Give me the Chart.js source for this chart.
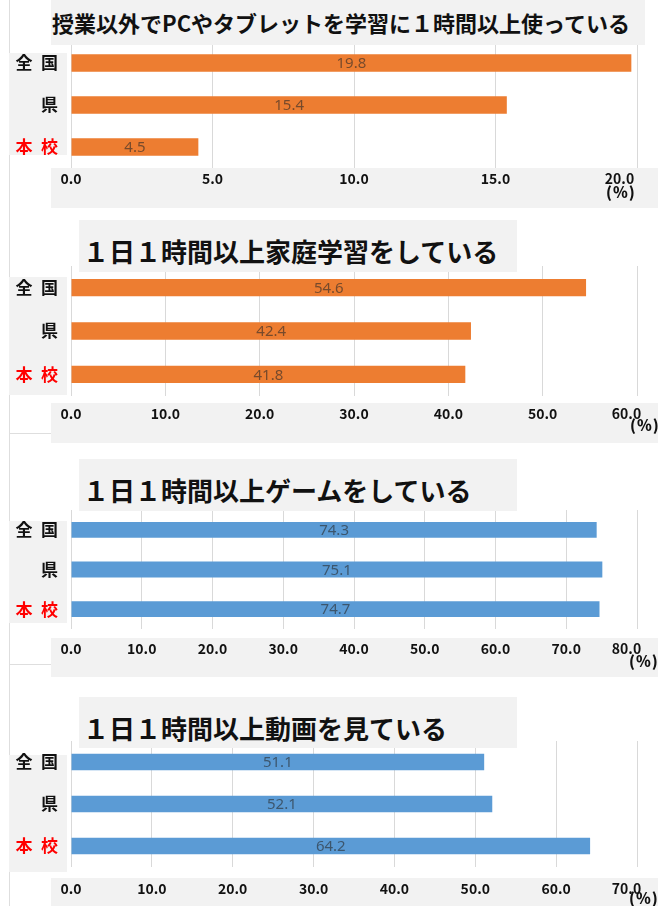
<!DOCTYPE html>
<html>
<head>
<meta charset="utf-8">
<script src="https://cdn.jsdelivr.net/npm/chart.js@4.4.1/dist/chart.umd.min.js"></script>
<style>
  body { margin: 0; background: #fff; }
  #page { position: relative; width: 663px; height: 906px; overflow: hidden; background: #fff;
          font-family: "Noto Sans CJK JP", "Noto Sans", sans-serif; }
  .box { position: absolute; background: #f2f2f2; z-index: 1; }
  .ttl { position: absolute; background: #f2f2f2; z-index: 3; font-weight: 700; color: #111;
         white-space: nowrap; box-sizing: border-box; }
  .pct { position: absolute; z-index: 3; font-family: "Noto Sans CJK JP", sans-serif; font-weight: 900;
         font-size: 15px; color: #111; line-height: 15px; letter-spacing: 1px; }
  .rule { position: absolute; background: #dedede; z-index: 0; }
  canvas { position: absolute; left: 0; z-index: 2; }
</style>
</head>
<body>
<div id="page">
  <div class="rule" style="left:9px;top:0;width:1px;height:906px"></div>
  <div class="rule" style="left:9px;top:433px;width:42px;height:1px"></div>
  <div class="rule" style="left:9px;top:664px;width:42px;height:1px"></div>

  <!-- panel 1 -->
  <div class="box" style="left:9px;top:53px;width:58px;height:102px"></div>
  <div class="box" style="left:51px;top:168px;width:607px;height:40px"></div>
  <canvas id="c1" width="700" height="215" style="top:0"></canvas>
  <div class="ttl" style="left:51px;top:0;width:594px;height:45px;font-size:22px;line-height:45px;padding-left:1px">授業以外でPCやタブレットを学習に１時間以上使っている</div>
  <div class="pct" style="left:606px;top:184px">(%)</div>

  <!-- panel 2 -->
  <div class="box" style="left:9px;top:277px;width:58px;height:118px"></div>
  <div class="box" style="left:51px;top:403px;width:607px;height:40px"></div>
  <canvas id="c2" width="700" height="230" style="top:215px"></canvas>
  <div class="ttl" style="left:79px;top:220px;width:438px;height:52px;font-size:26px;line-height:52px;padding:5px 0 0 4px">１日１時間以上家庭学習をしている</div>
  <div class="pct" style="left:630px;top:417px">(%)</div>

  <!-- panel 3 -->
  <div class="box" style="left:9px;top:521px;width:58px;height:102px"></div>
  <div class="box" style="left:51px;top:638px;width:607px;height:39px"></div>
  <canvas id="c3" width="700" height="235" style="top:445px"></canvas>
  <div class="ttl" style="left:79px;top:459px;width:438px;height:52px;font-size:26px;line-height:52px;padding:5px 0 0 4px">１日１時間以上ゲームをしている</div>
  <div class="pct" style="left:629px;top:653px">(%)</div>

  <!-- panel 4 -->
  <div class="box" style="left:9px;top:755px;width:58px;height:117px"></div>
  <div class="box" style="left:51px;top:878px;width:607px;height:28px"></div>
  <canvas id="c4" width="700" height="226" style="top:680px"></canvas>
  <div class="ttl" style="left:79px;top:697px;width:438px;height:51px;font-size:26px;line-height:51px;padding:5px 0 0 4px">１日１時間以上動画を見ている</div>
  <div class="pct" style="left:629px;top:890px">(%)</div>
</div>

<script>
// categories and values
var categories = ['全\u2002国', '県', '本\u2002校'];
var pcStudy   = [19.8, 15.4, 4.5];
var homeStudy = [54.6, 42.4, 41.8];
var gaming    = [74.3, 75.1, 74.7];
var video     = [51.1, 52.1, 64.2];
var axisMax   = [20, 60, 80, 70];
var axisStep  = [5, 10, 10, 10];

var ORANGE = '#ED7D31';
var BLUE = '#5B9BD5';

// draws the value in the middle of every bar
var barValues = {
	id: 'barValues',
	afterDatasetsDraw: function(chart) {
		var ctx = chart.ctx;
		ctx.save();
		ctx.font = '15px "Liberation Sans Narrow", "Noto Sans", sans-serif';
		ctx.fillStyle = 'rgba(40,40,40,0.6)';
		ctx.textAlign = 'center';
		ctx.textBaseline = 'middle';
		chart.getDatasetMeta(0).data.forEach(function(bar, i) {
			var v = chart.data.datasets[0].data[i];
			ctx.fillText(v.toFixed(1), (bar.x + bar.base) / 2, bar.y + 1);
		});
		ctx.restore();
	}
};

function makeChart(id, values, color, max, step, o) {
	return new Chart(document.getElementById(id), {
		type: 'bar',
		data: {
			labels: categories,
			datasets: [{
				data: values,
				backgroundColor: color,
				borderWidth: 0,
				barPercentage: o.barPct,
				categoryPercentage: 1
			}]
		},
		options: {
			indexAxis: 'y',
			responsive: false,
			animation: false,
			layout: { padding: { left: 0, right: 700 - 637, top: o.padTop, bottom: 0 } },
			plugins: { legend: { display: false }, tooltip: { enabled: false } },
			scales: {
				x: {
					min: 0,
					max: max,
					grid: { color: '#d9d9d9', drawTicks: false },
					border: { display: false },
					ticks: {
						stepSize: step,
						padding: o.tickPad,
						color: '#111',
						font: { family: '"Noto Sans CJK JP", sans-serif', size: 14, weight: 'bold' },
						callback: function(v, i, ticks) {
							var s = Number(v).toFixed(1);
							if (i === ticks.length - 1) s += o.lastPad;
							return s;
						}
					},
					afterFit: function(scale) { scale.height = o.axisH; }
				},
				y: {
					grid: { display: false, drawTicks: false },
					border: { display: false },
					ticks: {
						padding: 13,
						color: function(c) { return c.index === 2 ? '#ff0000' : '#111'; },
						font: { family: '"Noto Sans CJK JP", sans-serif', size: 17, weight: 'bold' }
					},
					afterFit: function(scale) { scale.width = 71; }
				}
			}
		},
		plugins: [barValues]
	});
}

makeChart('c1', pcStudy, ORANGE, axisMax[0], axisStep[0],
	{ padTop: 42, axisH: 47, tickPad: 2, barPct: 0.42, lastPad: '\u2003\u2003\u2002' });
makeChart('c2', homeStudy, ORANGE, axisMax[1], axisStep[1],
	{ padTop: 51, axisH: 49, tickPad: 9, barPct: 0.4, lastPad: '\u2003\u2002' });
makeChart('c3', gaming, BLUE, axisMax[2], axisStep[2],
	{ padTop: 65, axisH: 51, tickPad: 11, barPct: 0.4, lastPad: '\u2003\u2002' });
makeChart('c4', video, BLUE, axisMax[3], axisStep[3],
	{ padTop: 61, axisH: 39, tickPad: 13, barPct: 0.39, lastPad: '\u2003\u2002' });
</script>
</body>
</html>
